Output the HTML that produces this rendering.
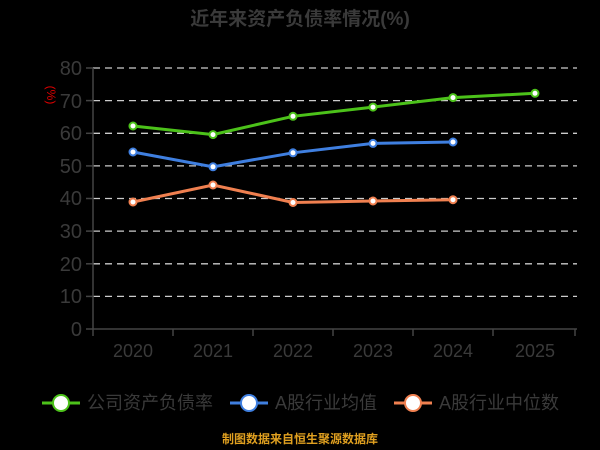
<!DOCTYPE html>
<html><head><meta charset="utf-8"><style>
html,body{margin:0;padding:0;background:#000;}
svg{display:block;font-family:"Liberation Sans","Noto Sans CJK SC",sans-serif;}
</style></head><body>
<svg width="600" height="450" viewBox="0 0 600 450" xmlns="http://www.w3.org/2000/svg">
<rect width="600" height="450" fill="#000"/>
<text x="300" y="25" text-anchor="middle" font-size="19" font-weight="bold" fill="#3a3a3a">近年来资产负债率情况(%)</text>
<g stroke="#ccc" stroke-width="1.3" stroke-dasharray="7,5">
<line x1="93" y1="68" x2="577" y2="68"/><line x1="93" y1="100.6" x2="577" y2="100.6"/>
<line x1="93" y1="133.3" x2="577" y2="133.3"/><line x1="93" y1="165.9" x2="577" y2="165.9"/>
<line x1="93" y1="198.5" x2="577" y2="198.5"/><line x1="93" y1="231.1" x2="577" y2="231.1"/>
<line x1="93" y1="263.8" x2="577" y2="263.8"/><line x1="93" y1="296.4" x2="577" y2="296.4"/>
</g>
<g stroke="#444" stroke-width="1.5">
<line x1="93" y1="68" x2="93" y2="329"/><line x1="86" y1="68" x2="93" y2="68"/>
<line x1="86" y1="100.6" x2="93" y2="100.6"/><line x1="86" y1="133.3" x2="93" y2="133.3"/>
<line x1="86" y1="165.9" x2="93" y2="165.9"/><line x1="86" y1="198.5" x2="93" y2="198.5"/>
<line x1="86" y1="231.1" x2="93" y2="231.1"/><line x1="86" y1="263.8" x2="93" y2="263.8"/>
<line x1="86" y1="296.4" x2="93" y2="296.4"/><line x1="86" y1="329" x2="93" y2="329"/>
<line x1="93" y1="329" x2="577" y2="329"/>
<line x1="93" y1="329" x2="93" y2="336"/><line x1="173" y1="329" x2="173" y2="336"/>
<line x1="253" y1="329" x2="253" y2="336"/><line x1="333" y1="329" x2="333" y2="336"/>
<line x1="413" y1="329" x2="413" y2="336"/><line x1="493" y1="329" x2="493" y2="336"/>
<line x1="575" y1="329" x2="575" y2="336"/>
</g>
<g font-size="20" fill="#3a3a3a" text-anchor="end">
<text x="82" y="75">80</text><text x="82" y="108">70</text><text x="82" y="140">60</text>
<text x="82" y="173">50</text><text x="82" y="205">40</text><text x="82" y="238">30</text>
<text x="82" y="271">20</text><text x="82" y="303">10</text><text x="82" y="336">0</text>
</g>
<text x="47" y="95" font-size="12" fill="#d00" text-anchor="middle" transform="rotate(90 47 95)">(%)</text>
<g font-size="18" fill="#3a3a3a" text-anchor="middle">
<text x="133" y="357">2020</text><text x="213" y="357">2021</text><text x="293" y="357">2022</text>
<text x="373" y="357">2023</text><text x="453" y="357">2024</text><text x="535" y="357">2025</text>
</g>
<polyline fill="none" stroke="#f08050" stroke-width="3" points="133,202 213,185 293,202.5 373,201 453,199.7"/>
<polyline fill="none" stroke="#3f7fe0" stroke-width="3" points="133,152 213,166.8 293,152.8 373,143.4 453,142"/>
<polyline fill="none" stroke="#4cc21a" stroke-width="3" points="133,126 213,134.6 293,116.3 373,107.1 453,97.6 535,93.3"/>
<g fill="#fff" stroke-width="2">
<g stroke="#f08050"><circle cx="133" cy="202" r="3.5"/><circle cx="213" cy="185" r="3.5"/><circle cx="293" cy="202.5" r="3.5"/><circle cx="373" cy="201" r="3.5"/><circle cx="453" cy="199.7" r="3.5"/></g>
<g stroke="#3f7fe0"><circle cx="133" cy="152" r="3.5"/><circle cx="213" cy="166.8" r="3.5"/><circle cx="293" cy="152.8" r="3.5"/><circle cx="373" cy="143.4" r="3.5"/><circle cx="453" cy="142" r="3.5"/></g>
<g stroke="#4cc21a"><circle cx="133" cy="126" r="3.5"/><circle cx="213" cy="134.6" r="3.5"/><circle cx="293" cy="116.3" r="3.5"/><circle cx="373" cy="107.1" r="3.5"/><circle cx="453" cy="97.6" r="3.5"/><circle cx="535" cy="93.3" r="3.5"/></g>
</g>
<g font-size="18" fill="#3a3a3a">
<line x1="42" y1="403" x2="80" y2="403" stroke="#4cc21a" stroke-width="3"/>
<circle cx="61" cy="403" r="8" fill="#fff" stroke="#4cc21a" stroke-width="2"/>
<text x="87" y="409">公司资产负债率</text>
<line x1="230" y1="403" x2="268" y2="403" stroke="#3f7fe0" stroke-width="3"/>
<circle cx="249" cy="403" r="8" fill="#fff" stroke="#3f7fe0" stroke-width="2"/>
<text x="275" y="409">A股行业均值</text>
<line x1="394" y1="403" x2="432" y2="403" stroke="#f08050" stroke-width="3"/>
<circle cx="413" cy="403" r="8" fill="#fff" stroke="#f08050" stroke-width="2"/>
<text x="439" y="409">A股行业中位数</text>
</g>
<text x="300" y="443" font-size="12" font-weight="bold" fill="#e0a020" text-anchor="middle">制图数据来自恒生聚源数据库</text>
</svg>
</body></html>
